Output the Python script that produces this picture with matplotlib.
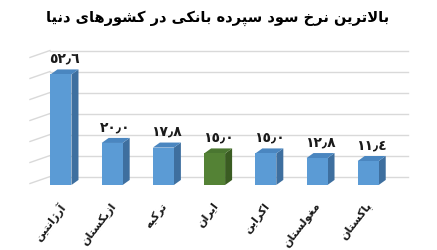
import matplotlib
matplotlib.use("Agg")
import matplotlib.pyplot as plt
from matplotlib.patches import Polygon

# data
countries = ["آرژانتین", "ازبکستان", "ترکیه", "ایران", "اکراین", "مغولستان", "پاکستان"]
rates = [52.6, 20.0, 17.8, 15.0, 15.0, 12.8, 11.4]
rate_labels = ["٥٢٫٦", "٢٠٫٠", "١٧٫٨", "١٥٫٠", "١٥٫٠", "١٢٫٨", "١١٫٤"]
highlight = "ایران"
grid_values = [0, 10, 20, 30, 40, 50, 60]
title = "بالاترین نرخ سود سپرده بانکی در کشورهای دنیا"

# presentation forms: isolated, final, initial, medial
FORMS = {
    "ا": ("\uFE8D", "\uFE8E"), "آ": ("\uFE81", "\uFE82"),
    "د": ("\uFEA9", "\uFEAA"), "ذ": ("\uFEAB", "\uFEAC"),
    "ر": ("\uFEAD", "\uFEAE"), "ز": ("\uFEAF", "\uFEB0"),
    "ژ": ("\uFB8A", "\uFB8B"), "و": ("\uFEED", "\uFEEE"),
    "ب": ("\uFE8F", "\uFE90", "\uFE91", "\uFE92"),
    "پ": ("\uFB56", "\uFB57", "\uFB58", "\uFB59"),
    "ت": ("\uFE95", "\uFE96", "\uFE97", "\uFE98"),
    "خ": ("\uFEA5", "\uFEA6", "\uFEA7", "\uFEA8"),
    "س": ("\uFEB1", "\uFEB2", "\uFEB3", "\uFEB4"),
    "ش": ("\uFEB5", "\uFEB6", "\uFEB7", "\uFEB8"),
    "غ": ("\uFECD", "\uFECE", "\uFECF", "\uFED0"),
    "ک": ("\uFB8E", "\uFB8F", "\uFB90", "\uFB91"),
    "ل": ("\uFEDD", "\uFEDE", "\uFEDF", "\uFEE0"),
    "م": ("\uFEE1", "\uFEE2", "\uFEE3", "\uFEE4"),
    "ن": ("\uFEE5", "\uFEE6", "\uFEE7", "\uFEE8"),
    "ه": ("\uFEE9", "\uFEEA", "\uFEEB", "\uFEEC"),
    "ی": ("\uFBFC", "\uFBFD", "\uFBFE", "\uFBFF"),
}
LAM_ALEF = {"ا": ("\uFEFB", "\uFEFC"), "آ": ("\uFEF5", "\uFEF6")}


def shape(text):
    # join letters by hand and reverse, since matplotlib lays text out left to right
    out = []
    i = 0
    n = len(text)
    while i < n:
        ch = text[i]
        if ch not in FORMS:
            out.append(ch)
            i += 1
            continue
        prev = text[i - 1] if i > 0 else ""
        joins_prev = prev in FORMS and len(FORMS[prev]) == 4
        if ch == "ل" and i + 1 < n and text[i + 1] in LAM_ALEF:
            out.append(LAM_ALEF[text[i + 1]][1 if joins_prev else 0])
            i += 2
            continue
        forms = FORMS[ch]
        nxt = text[i + 1] if i + 1 < n else ""
        joins_next = len(forms) == 4 and nxt in FORMS
        if joins_prev and joins_next:
            out.append(forms[3])
        elif joins_prev:
            out.append(forms[1])
        elif joins_next:
            out.append(forms[2])
        else:
            out.append(forms[0])
        i += 1
    return "".join(out)[::-1]


plt.rcParams["font.family"] = ["DejaVu Sans"]

fig = plt.figure(figsize=(4.37, 2.51), dpi=100)
ax = fig.add_axes([20 / 437, 51 / 251, 390 / 437, 155 / 251])
ax.set_xlim(-0.80, 6.816)
ax.set_ylim(-6.67, 67.1)
ax.axis("off")

bar_w = 0.41
dx, dy = 0.137, 2.4
wall_dy = 4.0
grid_x0, grid_x1 = -0.215, 6.78

for g in grid_values:
    y = g + wall_dy
    ax.plot([grid_x0, grid_x1], [y, y], color="#D9D9D9", lw=1.0, zorder=1)
    ax.plot([grid_x0 - 0.39, grid_x0], [y - 3.3, y], color="#D9D9D9", lw=1.0, zorder=1,
            clip_on=False)

for i, (name, v, lab) in enumerate(zip(countries, rates, rate_labels)):
    if name == highlight:
        front, side, top = "#548235", "#3A5C22", "#4A7630"
    else:
        front, side, top = "#5B9BD5", "#3E6F9F", "#4A86C0"
    left, right = i - bar_w / 2, i + bar_w / 2
    ax.add_patch(Polygon([(right, 0), (right + dx, dy), (right + dx, v + dy), (right, v)],
                         closed=True, facecolor=side, edgecolor="none", zorder=2))
    ax.add_patch(Polygon([(left, v), (left + dx, v + dy), (right + dx, v + dy), (right, v)],
                         closed=True, facecolor=top, edgecolor="none", zorder=2))
    ax.bar(i, v, width=bar_w, bottom=0, color=front, edgecolor="none", zorder=3)
    ax.text(i + dx / 2, v + dy + 5.5, lab, ha="center", va="center",
            fontsize=10, fontweight="bold", color="#1a1a1a")
    ax.text(i - 0.05, -7.0, shape(name), rotation=52, ha="right", va="top",
            rotation_mode="anchor", fontsize=8, fontweight="bold", color="#1a1a1a")

fig.text(218 / 437, 1 - 18 / 251, shape(title), ha="center", va="center",
         fontsize=10.5, fontweight="bold", color="black")

fig.savefig("out.png", dpi=100)
